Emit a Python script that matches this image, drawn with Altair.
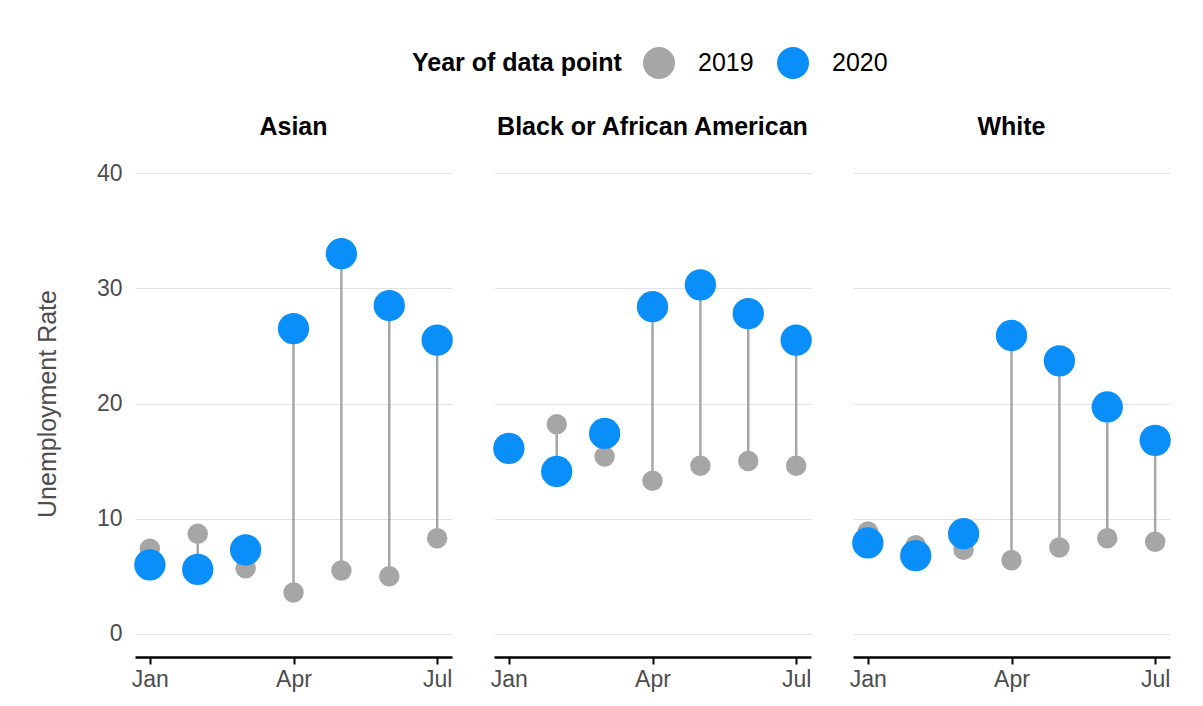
import altair as alt
import pandas as pd

months = ["Jan", "Feb", "Mar", "Apr", "May", "Jun", "Jul"]
groups = ["Asian", "Black or African American", "White"]
years = ["2019", "2020"]

asian_2019 = [7.4, 8.7, 5.7, 3.6, 5.5, 5.0, 8.3]
asian_2020 = [6.0, 5.6, 7.3, 26.5, 33.0, 28.5, 25.5]
black_2019 = [16.0, 18.2, 15.4, 13.3, 14.6, 15.0, 14.6]
black_2020 = [16.1, 14.1, 17.4, 28.4, 30.3, 27.8, 25.5]
white_2019 = [8.9, 7.7, 7.3, 6.4, 7.5, 8.3, 8.0]
white_2020 = [7.9, 6.8, 8.7, 25.9, 23.7, 19.7, 16.8]

series = {
    "Asian": (asian_2019, asian_2020),
    "Black or African American": (black_2019, black_2020),
    "White": (white_2019, white_2020),
}

rows = []
for yr_i, yr in enumerate(years):
    for g in groups:
        for m, v19, v20 in zip(months, series[g][0], series[g][1]):
            rows.append({
                "group": g, "month": m, "year": yr,
                "rate": (v19, v20)[yr_i], "v2019": v19, "v2020": v20,
            })
df = pd.DataFrame(rows)

GRAY = "#a6a6a6"
BLUE = "#0a8ffa"
FONT = "Liberation Sans"

x_enc = alt.X(
    "month:O", sort=months,
    scale=alt.Scale(type="point", padding=0.31),
    axis=alt.Axis(values=["Jan", "Apr", "Jul"], title=None, labelAngle=0,
                  domainColor="black", domainWidth=2.5, tickColor="black",
                  tickWidth=2, tickSize=7, labelColor="#4d4d4d",
                  labelFontSize=23, labelPadding=4, grid=False),
)
y_scale = alt.Scale(domain=[-2, 42], nice=False, zero=False)
y_axis = alt.Axis(values=[0, 10, 20, 30, 40], title="Unemployment Rate",
                  domain=False, ticks=False, labelColor="#4d4d4d",
                  labelFontSize=23, labelPadding=12,
                  titleColor="#4d4d4d", titleFontSize=25,
                  titleFontWeight="normal", titlePadding=36,
                  gridColor="#e3e3e3", gridWidth=1.2)
color_enc = alt.Color(
    "year:N", scale=alt.Scale(domain=years, range=[GRAY, BLUE]),
    legend=alt.Legend(title="Year of data point", orient="none",
                      direction="horizontal", titleOrient="left",
                      legendX=277, legendY=-104, titleLimit=500,
                      titleFontSize=25, titleFontWeight="bold",
                      titleColor="black", labelFontSize=25,
                      labelColor="black", symbolSize=1024,
                      symbolType="circle", columnPadding=22,
                      labelOffset=22, titlePadding=20),
)

rules = alt.Chart().transform_filter(alt.datum.year == "2019").mark_rule(
    color=GRAY, strokeWidth=2.5
).encode(
    x=x_enc,
    y=alt.Y("v2019:Q", scale=y_scale, axis=y_axis),
    y2="v2020:Q",
)

pts19 = alt.Chart().transform_filter(alt.datum.year == "2019").mark_circle(
    opacity=1, size=420
).encode(
    x=x_enc,
    y=alt.Y("rate:Q", scale=y_scale, axis=y_axis),
    color=color_enc,
)

pts20 = alt.Chart().transform_filter(alt.datum.year == "2020").mark_circle(
    opacity=1, size=980
).encode(
    x=x_enc,
    y=alt.Y("rate:Q", scale=y_scale, axis=y_axis),
    color=color_enc,
)

chart = alt.layer(rules, pts19, pts20, data=df).properties(
    width=317, height=507
).facet(
    column=alt.Facet("group:N", sort=groups,
                     header=alt.Header(title=None, labelFontSize=25,
                                       labelFontWeight="bold", labelColor="black",
                                       labelFont=FONT, labelPadding=10)),
    spacing=40,
).configure(
    font=FONT,
    padding={"left": 27, "top": 38, "right": 5, "bottom": 5},
).configure_view(stroke=None)

chart.save("out.html", embed_options={"renderer": "svg", "actions": False})
